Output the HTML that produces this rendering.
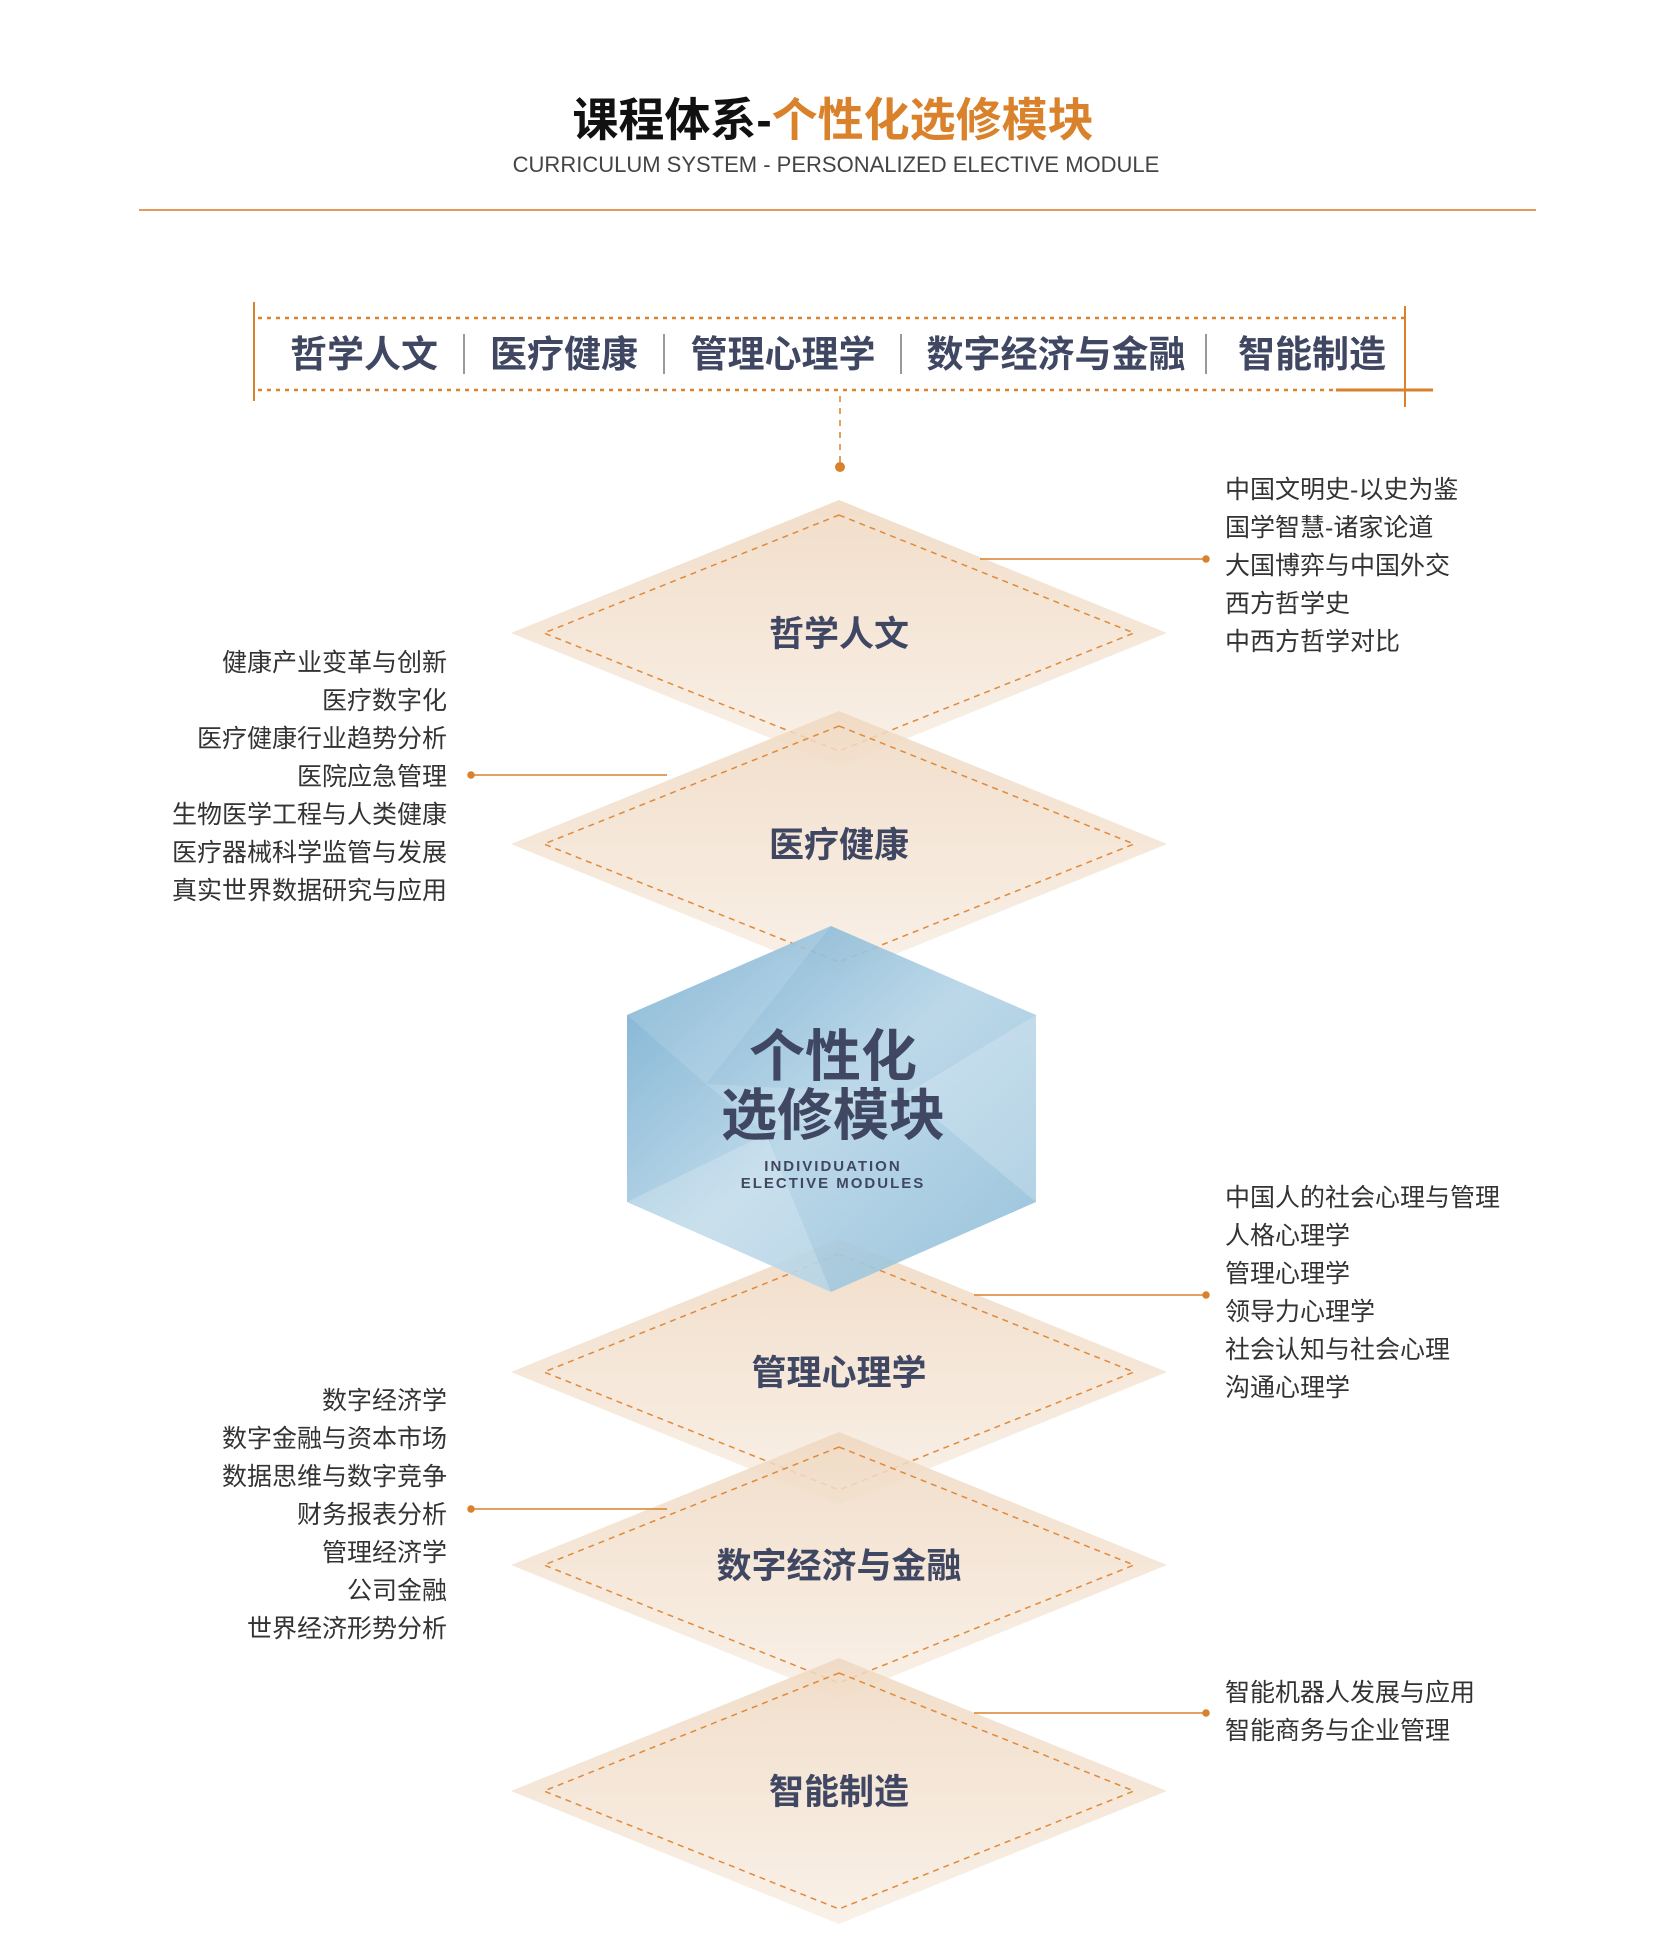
<!DOCTYPE html>
<html><head><meta charset="utf-8"><style>
html,body{margin:0;padding:0;background:#fff;}
svg{display:block;}
text{font-family:"Liberation Sans","Noto Sans CJK SC",sans-serif;}
</style></head><body>
<svg width="1654" height="1960" viewBox="0 0 1654 1960" xmlns="http://www.w3.org/2000/svg">
<defs>
<linearGradient id="dg" x1="0" y1="0" x2="0" y2="1">
<stop offset="0" stop-color="#efd8c0"/><stop offset="1" stop-color="#f8eee4"/>
</linearGradient>
<linearGradient id="hg" x1="0" y1="0" x2="1" y2="1">
<stop offset="0" stop-color="#6aa6cc"/><stop offset="0.5" stop-color="#b5d4e6"/><stop offset="1" stop-color="#8dbcd8"/>
</linearGradient>
</defs>
<line x1="139" y1="210" x2="1536" y2="210" stroke="#e49a5c" stroke-width="2"/>
<g transform="translate(6,4)">
<text x="827" y="132" text-anchor="middle" font-size="46" font-weight="bold"><tspan fill="#111">课程体系-</tspan><tspan fill="#d9822b">个性化选修模块</tspan></text>
<text x="830" y="168" text-anchor="middle" font-size="22" fill="#444">CURRICULUM SYSTEM - PERSONALIZED ELECTIVE MODULE</text>
<line x1="248" y1="298" x2="248" y2="397" stroke="#d9822b" stroke-width="2"/>
<line x1="1399" y1="302" x2="1399" y2="403" stroke="#d9822b" stroke-width="2"/>
<line x1="252" y1="314" x2="1399" y2="314" stroke="#d9822b" stroke-width="2.5" stroke-dasharray="4 5"/>
<line x1="252" y1="386" x2="1330" y2="386" stroke="#d9822b" stroke-width="2.5" stroke-dasharray="4 5"/>
<line x1="1330" y1="386" x2="1427" y2="386" stroke="#d9822b" stroke-width="3"/>
<g font-size="37" font-weight="bold" fill="#404762">
<text x="358" y="363" text-anchor="middle">哲学人文</text>
<text x="558" y="363" text-anchor="middle">医疗健康</text>
<text x="777" y="363" text-anchor="middle">管理心理学</text>
<text x="1050" y="363" text-anchor="middle">数字经济与金融</text>
<text x="1306" y="363" text-anchor="middle">智能制造</text>
</g>
<g stroke="#777" stroke-width="1.5">
<line x1="458" y1="330" x2="458" y2="370"/><line x1="658" y1="330" x2="658" y2="370"/>
<line x1="895" y1="330" x2="895" y2="370"/><line x1="1200" y1="330" x2="1200" y2="370"/>
</g>
<line x1="834" y1="392" x2="834" y2="458" stroke="#d9822b" stroke-width="1.5" stroke-dasharray="6 6"/>
<circle cx="834" cy="463" r="5" fill="#d9822b"/>

<polygon points="833,496 1161,629 833,762 505,629" fill="url(#dg)" fill-opacity="0.85"/>
<polygon points="833,511 1128,629 833,747 538,629" fill="none" stroke="#e08a3c" stroke-width="1.5" stroke-dasharray="6 5"/>
<polygon points="833,707 1161,840 833,973 505,840" fill="url(#dg)" fill-opacity="0.85"/>
<polygon points="833,722 1128,840 833,958 538,840" fill="none" stroke="#e08a3c" stroke-width="1.5" stroke-dasharray="6 5"/>

<polygon points="833,1235 1161,1368 833,1501 505,1368" fill="url(#dg)" fill-opacity="0.85"/>
<polygon points="833,1250 1128,1368 833,1486 538,1368" fill="none" stroke="#e08a3c" stroke-width="1.5" stroke-dasharray="6 5"/>
<polygon points="833,1428 1161,1561 833,1694 505,1561" fill="url(#dg)" fill-opacity="0.85"/>
<polygon points="833,1443 1128,1561 833,1679 538,1561" fill="none" stroke="#e08a3c" stroke-width="1.5" stroke-dasharray="6 5"/>
<polygon points="833,1654 1161,1787 833,1920 505,1787" fill="url(#dg)" fill-opacity="0.85"/>
<polygon points="833,1669 1128,1787 833,1905 538,1787" fill="none" stroke="#e08a3c" stroke-width="1.5" stroke-dasharray="6 5"/>

<polygon points="621,1011 825,922 1030,1011 1030,1198 825,1288 621,1198" fill="url(#hg)" fill-opacity="0.9"/>
<polygon points="621,1011 825,922 700,1080" fill="#fff" fill-opacity="0.12"/>
<polygon points="1030,1011 900,1090 1030,1198" fill="#fff" fill-opacity="0.2"/>
<polygon points="621,1198 760,1130 825,1288" fill="#fff" fill-opacity="0.2"/>
<polygon points="700,1080 900,1090 760,1130" fill="#fff" fill-opacity="0.15"/>

<g font-size="35" font-weight="bold" fill="#404762" text-anchor="middle">
<text x="833" y="642">哲学人文</text>
<text x="833" y="853">医疗健康</text>
<text x="833" y="1381">管理心理学</text>
<text x="833" y="1574">数字经济与金融</text>
<text x="833" y="1800">智能制造</text>
</g>
<g font-weight="bold" fill="#404762" text-anchor="middle">
<text x="827" y="1072" font-size="56">个性化</text>
<text x="827" y="1131" font-size="56">选修模块</text>
<text x="827" y="1167" font-size="15" letter-spacing="2">INDIVIDUATION</text>
<text x="827" y="1184" font-size="15" letter-spacing="2">ELECTIVE MODULES</text>
</g>

<g stroke="#d9822b" stroke-width="1.5" fill="#d9822b">
<line x1="974" y1="555" x2="1200" y2="555"/><circle cx="1200" cy="555" r="3"/>
<line x1="465" y1="771" x2="661" y2="771"/><circle cx="465" cy="771" r="3"/>
<line x1="968" y1="1291" x2="1200" y2="1291"/><circle cx="1200" cy="1291" r="3"/>
<line x1="465" y1="1505" x2="661" y2="1505"/><circle cx="465" cy="1505" r="3"/>
<line x1="968" y1="1709" x2="1200" y2="1709"/><circle cx="1200" cy="1709" r="3"/>
</g>

<g font-size="25" fill="#333">
<text x="1219" y="494">中国文明史-以史为鉴</text>
<text x="1219" y="532">国学智慧-诸家论道</text>
<text x="1219" y="570">大国博弈与中国外交</text>
<text x="1219" y="608">西方哲学史</text>
<text x="1219" y="646">中西方哲学对比</text>

<text x="1219" y="1202">中国人的社会心理与管理</text>
<text x="1219" y="1240">人格心理学</text>
<text x="1219" y="1278">管理心理学</text>
<text x="1219" y="1316">领导力心理学</text>
<text x="1219" y="1354">社会认知与社会心理</text>
<text x="1219" y="1392">沟通心理学</text>

<text x="1219" y="1697">智能机器人发展与应用</text>
<text x="1219" y="1735">智能商务与企业管理</text>
</g>
<g font-size="25" fill="#333" text-anchor="end">
<text x="441" y="667">健康产业变革与创新</text>
<text x="441" y="705">医疗数字化</text>
<text x="441" y="743">医疗健康行业趋势分析</text>
<text x="441" y="781">医院应急管理</text>
<text x="441" y="819">生物医学工程与人类健康</text>
<text x="441" y="857">医疗器械科学监管与发展</text>
<text x="441" y="895">真实世界数据研究与应用</text>

<text x="441" y="1405">数字经济学</text>
<text x="441" y="1443">数字金融与资本市场</text>
<text x="441" y="1481">数据思维与数字竞争</text>
<text x="441" y="1519">财务报表分析</text>
<text x="441" y="1557">管理经济学</text>
<text x="441" y="1595">公司金融</text>
<text x="441" y="1633">世界经济形势分析</text>
</g>
</g>
</svg>
</body></html>
